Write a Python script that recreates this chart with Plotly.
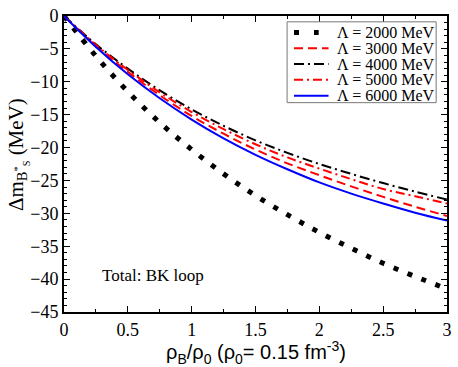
import plotly.graph_objects as go

rho = [0, 0.25, 0.5, 0.75, 1.0, 1.25, 1.5, 1.75, 2.0, 2.25, 2.5, 2.75, 3.0]

dm_2000 = [0, -6.1, -11.5, -16.2, -20.3, -24.0, -27.3, -30.2, -32.9, -35.3, -37.6, -39.6, -41.5]
dm_3000 = [0, -4.55, -8.5, -12.05, -15.2, -17.9, -20.3, -22.4, -24.2, -25.9, -27.5, -29.0, -30.4]
dm_4000 = [0, -4.3, -8.0, -11.3, -14.2, -16.7, -18.9, -20.8, -22.5, -24.0, -25.4, -26.7, -27.9]
dm_5000 = [0, -4.4, -8.2, -11.6, -14.6, -17.2, -19.5, -21.5, -23.2, -24.8, -26.3, -27.4, -28.5]
dm_6000 = [0, -4.7, -8.85, -12.5, -15.74, -18.6, -21.1, -23.3, -25.3, -27.0, -28.5, -29.9, -31.1]

names = ["Λ = 2000 MeV", "Λ = 3000 MeV", "Λ = 4000 MeV", "Λ = 5000 MeV", "Λ = 6000 MeV"]

serif = "Liberation Serif"
sans = "Liberation Sans"

W, H = 458, 367
L, R, T, B = 64, 6, 8, 55
pw, ph = W - L - R, H - T - B

def px(x):   # pixel -> paper x
    return (x - L) / pw

def py(y):   # pixel -> paper y
    return (H - B - y) / ph

styles = [
    dict(color="black", width=5, dash="5px,10px"),
    dict(color="red", width=2, dash="9px,5px"),
    dict(color="black", width=2, dash="10px,4px,2px,4px"),
    dict(color="red", width=2, dash="9px,4px,2px,4px"),
    dict(color="blue", width=2),
]
legend_styles = [dict(styles[0], dash="5px,15px")] + styles[1:]

fig = go.Figure()
for ys, nm, st in zip([dm_2000, dm_3000, dm_4000, dm_5000, dm_6000], names, styles):
    fig.add_trace(go.Scatter(x=rho, y=ys, name=nm, mode="lines", line_shape="spline",
                             line=st, showlegend=False))

fig.add_annotation(x=0.28, y=-39.5, text="Total: BK loop", showarrow=False, xanchor="left",
                   font=dict(family=serif, size=17, color="black"))

# legend box drawn by hand (xmgrace style: tight rows)
fig.add_shape(type="rect", xref="paper", yref="paper", x0=px(290), x1=px(441), y0=py(97), y1=py(14),
              line=dict(color="#777777", width=1), fillcolor="white", layer="above")
for i, (nm, st) in enumerate(zip(names, legend_styles)):
    yc = 25 + 16.2 * i
    fig.add_shape(type="line", xref="paper", yref="paper", x0=px(297), x1=px(332 if i else 322),
                  y0=py(yc), y1=py(yc), line=st, layer="above")
    fig.add_annotation(xref="paper", yref="paper", x=px(339), y=py(yc), xanchor="left", yanchor="middle",
                       text=nm, showarrow=False, font=dict(family=serif, size=16, color="black"))

# axis titles as annotations for exact placement
fig.add_annotation(xref="paper", yref="paper", x=0.5, y=0, yanchor="top", yshift=-24,
                   text="ρ<sub>B</sub>/ρ<sub>0</sub> (ρ<sub>0</sub>= 0.15 fm<sup>-3</sup>)",
                   showarrow=False, font=dict(family=sans, size=20, color="black"))
fig.add_annotation(xref="paper", yref="paper", x=0, y=0.53, xanchor="center", xshift=-46,
                   textangle=-90, text="Δm<sub>B<sup>*</sup><sub>S</sub></sub> (MeV)",
                   showarrow=False, font=dict(family=serif, size=21, color="black"))

axis_common = dict(showgrid=False, zeroline=False, showline=True, linecolor="black", linewidth=2,
                   mirror="allticks", ticks="inside", ticklen=6, tickwidth=1, tickcolor="black",
                   ticklabeloverflow="allow")

fig.update_xaxes(range=[0, 3], dtick=0.5, tick0=0,
                 tickfont=dict(family=serif, size=18, color="black"),
                 minor=dict(dtick=0.25, ticks="inside", ticklen=3, tickcolor="black"),
                 **axis_common)
fig.update_yaxes(range=[-45, 0], dtick=5, tick0=0,
                 tickfont=dict(family=serif, size=18, color="black"),
                 minor=dict(dtick=1, ticks="inside", ticklen=3, tickcolor="black"),
                 **axis_common)

fig.update_layout(
    width=W, height=H,
    margin=dict(l=L, r=R, t=T, b=B),
    font=dict(family=serif, color="black"),
    plot_bgcolor="white", paper_bgcolor="white",
    showlegend=False,
)

fig.write_html("out.html", config={"displayModeBar": False},
               post_script="document.body.style.margin='0';")
